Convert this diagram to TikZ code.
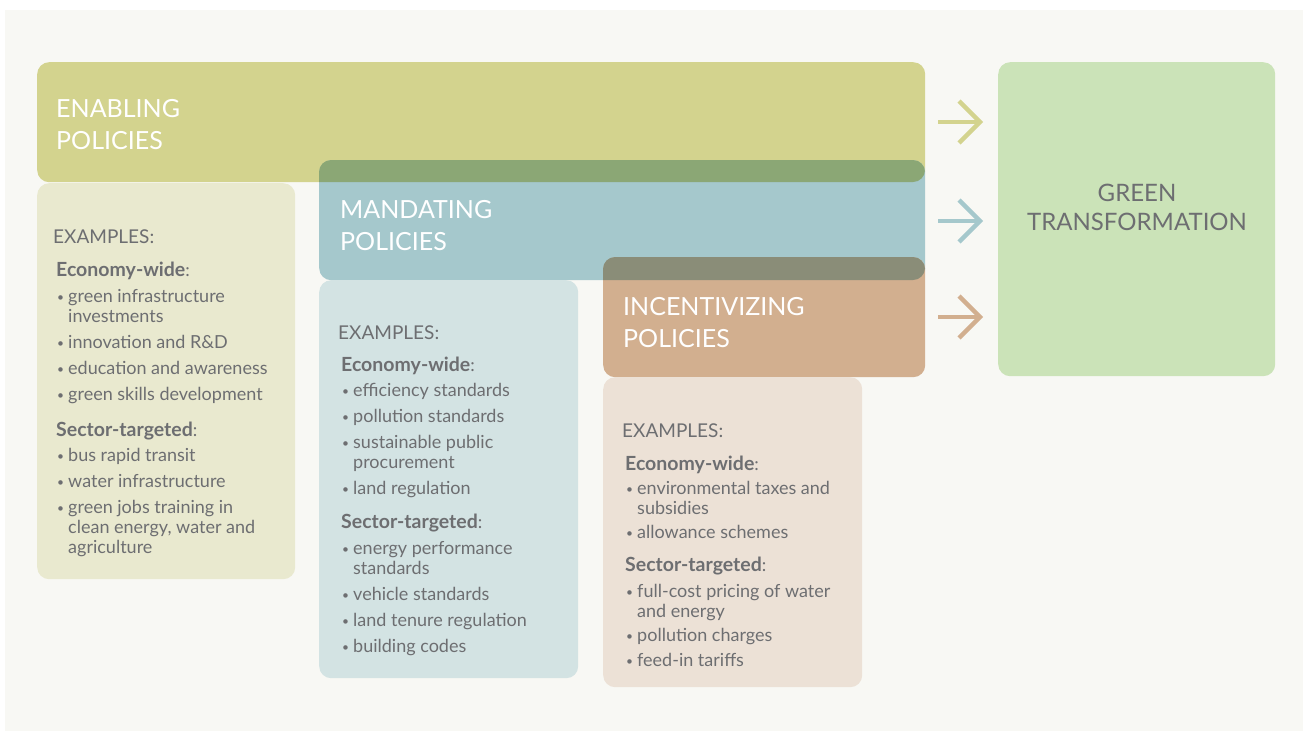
\documentclass[tikz,border=0pt]{standalone}
\usepackage{fontspec}
\setmainfont{Lato}
\usetikzlibrary{calc}
\definecolor{pageBg}{HTML}{F8F8F4}
\definecolor{cEnab}{HTML}{D3D38E}
\definecolor{cMand}{HTML}{A5C8CC}
\definecolor{cInc}{HTML}{D2AF8F}
\definecolor{cOvA}{HTML}{8BA775}
\definecolor{cOvB}{HTML}{8A8D78}
\definecolor{cGreen}{HTML}{CBE3B8}
\definecolor{exEnab}{HTML}{E9E9CF}
\definecolor{exMand}{HTML}{D3E3E3}
\definecolor{exInc}{HTML}{ECE1D6}
\definecolor{txtgray}{HTML}{6D6E71}
\newcommand{\Bu}{\makebox[12pt][l]{\hspace*{1pt}\raisebox{1.5pt}{\fontsize{12}{12}\selectfont\textbullet}}}
\newcommand{\Cn}{\hspace*{12pt}}
\newcommand{\Ex}{\hspace*{-3pt}{\fontsize{19}{20}\selectfont EXAMPLES:}}
\newcommand{\Hd}[1]{{\fontsize{19.5}{20}\selectfont\textbf{#1}}}
\begin{document}
\begin{tikzpicture}[x=1pt,y=-1pt,
  box/.style={rounded corners=12pt, inner sep=0pt, anchor=north west, draw=none},
  titletext/.style={text=white, font=\fontsize{25}{32}\selectfont, align=left, anchor=west, inner sep=0pt},
  extext/.style={text=txtgray, font=\fontsize{18}{20}\selectfont, align=left, anchor=north west, inner sep=0pt},
  arr/.style={line width=4.5pt, line join=miter}]
\useasboundingbox (0,0) rectangle (1303,731);
\fill[pageBg] (5,10) rectangle (1303,731);

% policy boxes
\node[box, fill=cEnab, minimum width=888pt, minimum height=120pt] (enab) at (37,62) {};
\node[box, fill=cMand, minimum width=606pt, minimum height=120pt] (mand) at (319,160) {};
\node[box, fill=cInc, minimum width=322pt, minimum height=120pt] (inc) at (603,257) {};
% overlaps
\begin{scope}
  \clip[rounded corners=12pt] (37,62) rectangle (925,182);
  \fill[cOvA, rounded corners=12pt] (319,160) rectangle (925,280);
\end{scope}
\begin{scope}
  \clip[rounded corners=12pt] (319,160) rectangle (925,280);
  \fill[cOvB, rounded corners=12pt] (603,257) rectangle (925,377);
\end{scope}

% example boxes
\node[box, fill=exEnab, minimum width=258pt, minimum height=396pt] (exenab) at (37,183) {};
\node[box, fill=exMand, minimum width=259pt, minimum height=398pt] (exmand) at (319,280) {};
\node[box, fill=exInc, minimum width=259pt, minimum height=310pt] (exinc) at (603,377) {};

% green box
\node[box, fill=cGreen, minimum width=277pt, minimum height=314pt] (green) at (998,62) {};

% titles
\node[titletext] (tenab) at (56,125) {ENABLING\\POLICIES};
\node[titletext] (tmand) at (340,226) {MANDATING\\POLICIES};
\node[titletext] (tinc) at (623,323) {INCENTIVIZING\\POLICIES};
\node[text=txtgray, font=\fontsize{24}{29}\selectfont, align=center, inner sep=0pt] (tgreen) at (1137,207) {GREEN\\TRANSFORMATION};

% arrows
\coordinate (a1s) at (938,122); \coordinate (a1e) at (980,122);
\coordinate (a2s) at (938,221); \coordinate (a2e) at (980,221);
\coordinate (a3s) at (938,317); \coordinate (a3e) at (980,317);
\foreach \s/\e/\c in {a1s/a1e/cEnab, a2s/a2e/cMand, a3s/a3e/cInc}{
  \draw[arr, \c] (\s) -- (\e);
  \draw[arr, \c] ($(\e)+(-21,-21)$) -- (\e) -- ($(\e)+(-21,21)$);
}

% example texts
\node[extext] (xenab) at (56,230) {%
\Ex\\[13pt]
\Hd{Economy-wide}:\\[6pt]
\Bu green infrastructure\\
\Cn investments\\[6pt]
\Bu innovation and R\&D\\[6pt]
\Bu education and awareness\\[6pt]
\Bu green skills development\\[16pt]
\Hd{Sector-targeted}:\\[5pt]
\Bu bus rapid transit\\[6pt]
\Bu water infrastructure\\[6pt]
\Bu green jobs training in\\
\Cn clean energy, water and\\
\Cn agriculture};

\node[extext] (xmand) at (341,326) {%
\Ex\\[12pt]
\Hd{Economy-wide}:\\[5pt]
\Bu efficiency standards\\[6pt]
\Bu pollution standards\\[6pt]
\Bu sustainable public\\
\Cn procurement\\[6pt]
\Bu land regulation\\[14pt]
\Hd{Sector-targeted}:\\[6pt]
\Bu energy performance\\
\Cn standards\\[6pt]
\Bu vehicle standards\\[6pt]
\Bu land tenure regulation\\[6pt]
\Bu building codes};

\node[extext] (xinc) at (625,424) {%
\Ex\\[13pt]
\Hd{Economy-wide}:\\[4pt]
\Bu environmental taxes and\\
\Cn subsidies\\[4pt]
\Bu allowance schemes\\[13pt]
\Hd{Sector-targeted}:\\[6pt]
\Bu full-cost pricing of water\\
\Cn and energy\\[4pt]
\Bu pollution charges\\[5pt]
\Bu feed-in tariffs};
\end{tikzpicture}
\end{document}
